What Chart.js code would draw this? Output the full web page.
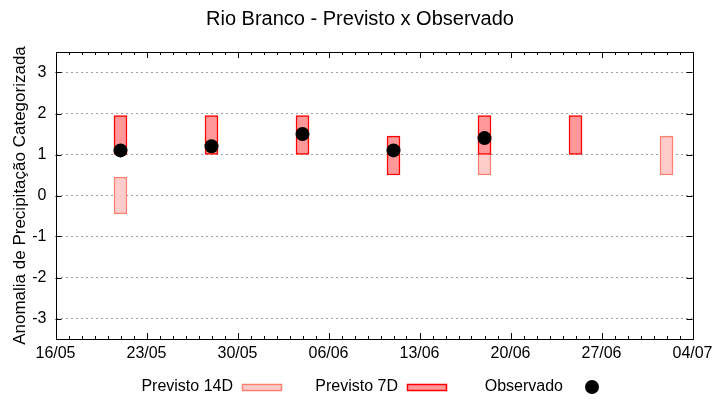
<!DOCTYPE html>
<html>
<head>
<meta charset="utf-8">
<script src="https://cdn.jsdelivr.net/npm/chart.js@4"></script>
<style>
  html, body { margin: 0; padding: 0; background: #fff; }
  #wrap { width: 720px; height: 400px; }
</style>
</head>
<body>
<div id="wrap"><canvas id="chart" width="720" height="400"></canvas></div>
<script>
// weeks shown on the chart (dd/mm), first x tick is the axis origin
const xTickLabels = ['16/05', '23/05', '30/05', '06/06', '13/06', '20/06', '27/06', '04/07'];
const yTickValues = [-3, -2, -1, 0, 1, 2, 3];
const weeks = ['21/05', '28/05', '04/06', '11/06', '18/06', '25/06', '02/07'];

const seriesNames = ['Previsto 14D', 'Previsto 7D', 'Observado'];

// forecast ranges (low / high) and observed anomaly
const prev14Low  = [-0.45, null, null, null, 0.5, null, 0.5];
const prev14High = [0.45, null, null, null, 1.45, null, 1.45];
const prev7Low   = [1, 1, 1, 0.5, 1, 1, null];
const prev7High  = [1.95, 1.95, 1.95, 1.45, 1.95, 1.95, null];
const observado  = [1.1, 1.2, 1.5, 1.1, 1.4, null, null];

// days since the first tick label
function dayOffset(label) {
    const p = label.split('/');
    const p0 = xTickLabels[0].split('/');
    const d = Date.UTC(2024, +p[1] - 1, +p[0]);
    const d0 = Date.UTC(2024, +p0[1] - 1, +p0[0]);
    return Math.round((d - d0) / 86400000);
}

const xs = weeks.map(dayOffset);
const xMax = dayOffset(xTickLabels[xTickLabels.length - 1]);

function rangeData(lo, hi) {
    let out = [];
    for (let i = 0; i < xs.length; i++) {
        if (lo[i] !== null && hi[i] !== null) out.push({ x: xs[i], y: [lo[i], hi[i]] });
    }
    return out;
}

function pointData(vals) {
    let out = [];
    for (let i = 0; i < xs.length; i++) {
        if (vals[i] !== null) out.push({ x: xs[i], y: vals[i] });
    }
    return out;
}

const FONT = "'Liberation Sans', Arial, sans-serif";

// inward ticks + frame, gnuplot style
const framePlugin = {
    id: 'frame',
    afterDatasetsDraw(chart) {
        const ctx = chart.ctx;
        const a = chart.chartArea;
        const x = chart.scales.x;
        const y = chart.scales.y;
        ctx.save();
        ctx.strokeStyle = '#000';
        ctx.lineWidth = 1;
        ctx.beginPath();
        for (let d = 0; d <= xMax; d++) {
            const px = Math.round(x.getPixelForValue(d)) + 0.5;
            const len = (d % 7 === 0) ? 6 : 3;
            ctx.moveTo(px, a.bottom);
            ctx.lineTo(px, a.bottom - len);
            ctx.moveTo(px, a.top);
            ctx.lineTo(px, a.top + len);
        }
        y.ticks.forEach(t => {
            const py = Math.round(y.getPixelForValue(t.value)) + 0.5;
            ctx.moveTo(a.left, py);
            ctx.lineTo(a.left + 6, py);
            ctx.moveTo(a.right, py);
            ctx.lineTo(a.right - 6, py);
        });
        ctx.stroke();
        ctx.strokeRect(Math.round(a.left) + 0.5, Math.round(a.top) + 0.5,
            Math.round(a.right - a.left), Math.round(a.bottom - a.top));
        ctx.restore();
    }
};

// legend below the plot: text, then the sample
const legendPlugin = {
    id: 'bottomLegend',
    afterDraw(chart) {
        const ctx = chart.ctx;
        ctx.save();
        ctx.font = '16px ' + FONT;
        ctx.textAlign = 'right';
        ctx.textBaseline = 'alphabetic';
        chart.data.datasets.forEach((ds, i) => {
            const right = 233 + i * 165;
            ctx.fillStyle = '#000';
            ctx.fillText(ds.label, right, 391);
            const sx = right + 9;
            if (ds.type === 'bar') {
                ctx.fillStyle = ds.backgroundColor;
                ctx.strokeStyle = ds.borderColor;
                ctx.lineWidth = 1.5;
                ctx.fillRect(sx, 384, 40, 7);
                ctx.strokeRect(sx + 0.5, 384.5, 39, 6);
            } else {
                ctx.fillStyle = ds.backgroundColor;
                ctx.beginPath();
                ctx.arc(sx + 20, 387, ds.pointRadius, 0, Math.PI * 2);
                ctx.fill();
            }
        });
        ctx.restore();
    }
};

new Chart(document.getElementById('chart'), {
    type: 'bar',
    data: {
        datasets: [
            {
                type: 'bar',
                label: seriesNames[0],
                data: rangeData(prev14Low, prev14High),
                backgroundColor: '#ffcccc',
                borderColor: '#fa8072',
                borderWidth: 1.5,
                borderSkipped: false,
                barThickness: 13,
                grouped: false,
                order: 3
            },
            {
                type: 'bar',
                label: seriesNames[1],
                data: rangeData(prev7Low, prev7High),
                backgroundColor: '#ff9999',
                borderColor: '#ff0000',
                borderWidth: 1.5,
                borderSkipped: false,
                barThickness: 13,
                grouped: false,
                order: 2
            },
            {
                type: 'scatter',
                label: seriesNames[2],
                data: pointData(observado),
                backgroundColor: '#000',
                borderColor: '#000',
                borderWidth: 0,
                pointRadius: 7,
                showLine: false,
                order: 1
            }
        ]
    },
    options: {
        responsive: false,
        animation: false,
        layout: { padding: { left: 0, right: 0, top: 0, bottom: 31 } },
        plugins: {
            legend: { display: false },
            tooltip: { enabled: false },
            title: {
                display: true,
                text: 'Rio Branco - Previsto x Observado',
                color: '#000',
                font: { family: FONT, size: 20, weight: 'normal' },
                padding: { top: 7, bottom: 21 }
            }
        },
        scales: {
            x: {
                type: 'linear',
                min: 0,
                max: xMax,
                offset: false,
                grid: { display: false, drawTicks: false },
                border: { display: false },
                ticks: {
                    stepSize: 7,
                    autoSkip: false,
                    maxRotation: 0,
                    padding: 5,
                    color: '#000',
                    font: { family: FONT, size: 16 },
                    callback: v => xTickLabels[Math.round(v / 7)]
                },
                afterFit: s => { s.height = 30; }
            },
            y: {
                min: -3.5,
                max: 3.5,
                grid: { color: '#a0a0a0', lineWidth: 1, drawTicks: false },
                border: { display: false, dash: [2, 3] },
                ticks: {
                    autoSkip: false,
                    padding: 9,
                    color: '#000',
                    font: { family: FONT, size: 16 }
                },
                afterBuildTicks: s => {
                    s.ticks = yTickValues.map(v => ({ value: v }));
                },
                title: {
                    display: true,
                    text: 'Anomalia de Precipitação Categorizada',
                    color: '#000',
                    font: { family: FONT, size: 17 },
                    padding: { top: 10, bottom: 0 }
                },
                afterFit: s => { s.width = 55.5; }
            },
            yRight: {
                position: 'right',
                display: true,
                grid: { display: false, drawTicks: false },
                border: { display: false },
                ticks: { display: false },
                afterFit: s => { s.width = 27.5; }
            }
        }
    },
    plugins: [framePlugin, legendPlugin]
});
</script>
</body>
</html>
